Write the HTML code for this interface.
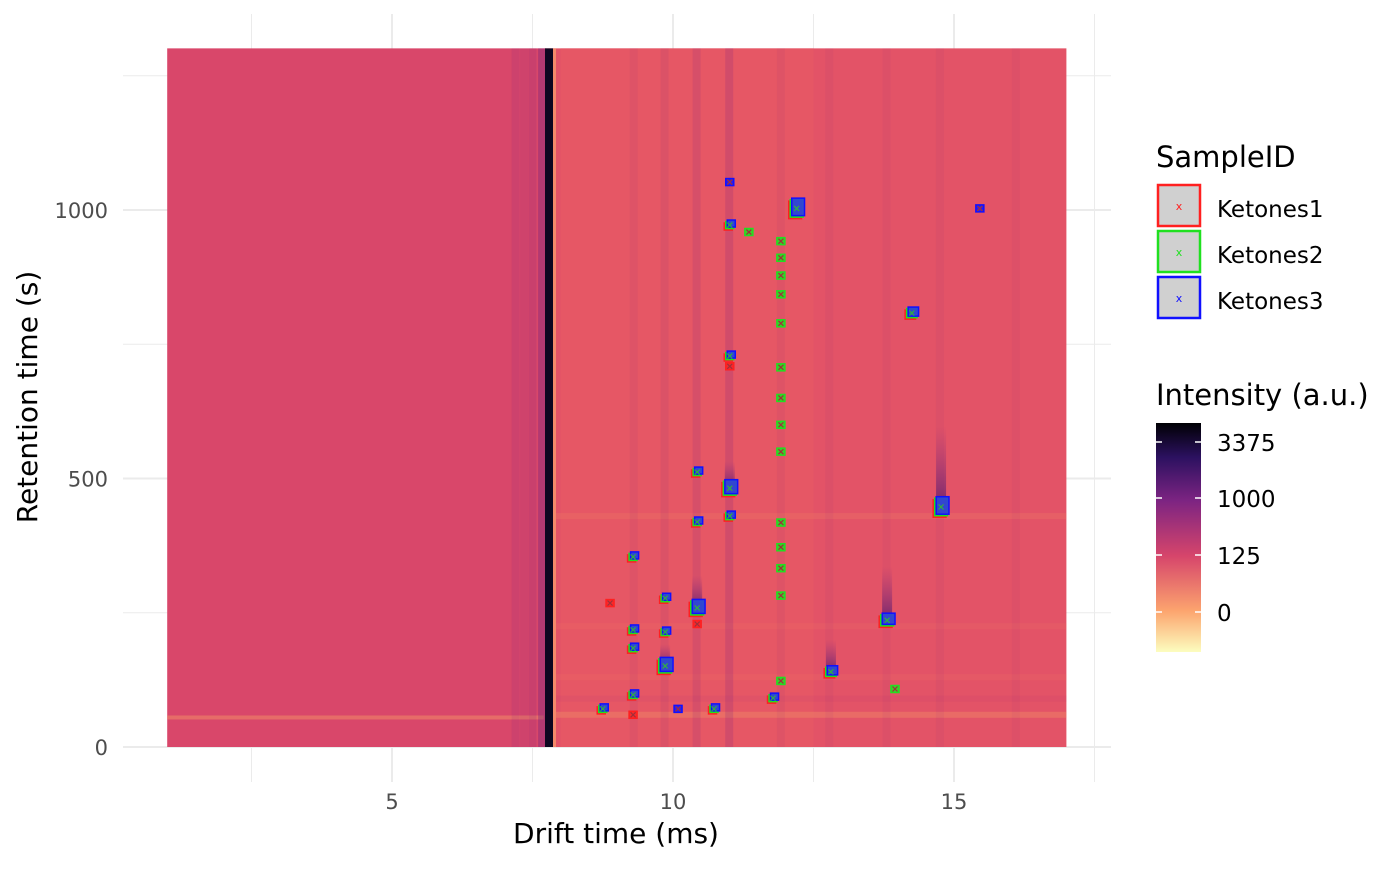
<!DOCTYPE html>
<html><head><meta charset="utf-8"><style>
body{margin:0;background:#fff;font-family:"Liberation Sans","DejaVu Sans",sans-serif}
svg text{font-family:"DejaVu Sans","Liberation Sans",sans-serif}
</style></head><body>
<svg id="chart" width="1400" height="865" viewBox="0 0 1400 865">
<defs>
<linearGradient id="magma" x1="0" y1="1" x2="0" y2="0">
<stop offset="0" stop-color="#fcfdbf"/><stop offset="0.18" stop-color="#fca46e"/><stop offset="0.42" stop-color="#d6456b"/><stop offset="0.66" stop-color="#7d2482"/><stop offset="0.85" stop-color="#2c1160"/><stop offset="1" stop-color="#000004"/>
</linearGradient>
<linearGradient id="tail" x1="0" y1="1" x2="0" y2="0">
<stop offset="0" stop-color="#3b1070" stop-opacity="0.8"/><stop offset="1" stop-color="#7d2482" stop-opacity="0"/>
</linearGradient>
</defs>
<g id="grid"></g>
<g id="heat"></g>
<g id="peaks"></g>
<g id="axes"></g>
<text x="616" y="843" font-size="28" text-anchor="middle" fill="#000">Drift time (ms)</text>
<text transform="translate(37,397) rotate(-90)" font-size="28" text-anchor="middle" fill="#000">Retention time (s)</text>
<g>
<text x="1156" y="167" font-size="29">SampleID</text>
<g><rect x="1158" y="185" width="42" height="41" fill="#d0d0d0" stroke="#ff2020" stroke-width="2.5"/><text x="1179" y="210" font-size="11" fill="#ff2020" text-anchor="middle">x</text><text x="1217" y="217" font-size="23">Ketones1</text></g>
<g><rect x="1158" y="231" width="42" height="41" fill="#d0d0d0" stroke="#20e020" stroke-width="2.5"/><text x="1179" y="256" font-size="11" fill="#20e020" text-anchor="middle">x</text><text x="1217" y="263" font-size="23">Ketones2</text></g>
<g><rect x="1158" y="277" width="42" height="41" fill="#d0d0d0" stroke="#1010ff" stroke-width="2.5"/><text x="1179" y="302" font-size="11" fill="#1010ff" text-anchor="middle">x</text><text x="1217" y="309" font-size="23">Ketones3</text></g>
</g>
<g>
<text x="1156" y="405" font-size="29">Intensity (a.u.)</text>
<rect x="1156" y="423" width="45" height="229" fill="url(#magma)"/>
<g stroke="#fff" stroke-width="1.5">
<line x1="1156" y1="442" x2="1162" y2="442"/><line x1="1195" y1="442" x2="1201" y2="442"/>
<line x1="1156" y1="498" x2="1162" y2="498"/><line x1="1195" y1="498" x2="1201" y2="498"/>
<line x1="1156" y1="555" x2="1162" y2="555"/><line x1="1195" y1="555" x2="1201" y2="555"/>
<line x1="1156" y1="612" x2="1162" y2="612"/><line x1="1195" y1="612" x2="1201" y2="612"/>
</g>
<g font-size="23" fill="#000">
<text x="1217" y="451">3375</text><text x="1217" y="507">1000</text><text x="1217" y="564">125</text><text x="1217" y="621">0</text>
</g>
</g>
</svg>
<script>
const xTicks=[5,10,15];
const xMinor=[2.5,7.5,12.5,17.5];
const yTicks=[0,500,1000];
const yMinor=[250,750,1250];
// streaks: drift time, opacity
const streakDt=[7.2,7.35,7.5,9.3,9.85,10.42,11.0,11.92,12.78,13.8,14.75,16.1];
const streakOp=[0.12,0.1,0.18,0.08,0.1,0.15,0.2,0.07,0.06,0.06,0.06,0.05];
// peaks
const peakDt=[8.75,9.29,9.29,9.29,9.29,9.29,8.88,9.86,9.86,9.86,10.09,10.73,10.43,10.43,10.43,10.43,11.01,11.01,11.01,11.01,11.01,11.01,11.35,11.92,11.92,11.92,11.92,11.92,11.92,11.92,11.92,11.92,11.92,11.92,11.92,11.92,11.92,11.78,12.2,12.81,13.81,13.95,14.25,14.77,15.46];
const peakRt=[71,60,97,184,218,354,268,277,214,151,71,71,259,229,419,512,482,430,728,709,972,1052,959,942,911,878,843,789,707,650,600,550,418,372,333,282,123,91,1003,140,236,108,808,447,1003];
const peakSample=["all","1","all","all","all","all","1","all","all","all","3","all","all","1","all","all","all","all","all","1","all","3","2","2","2","2","2","2","2","2","2","2","2","2","2","2","2","all","all","all","all","2","all","all","3"];
const peakSize=[1,1,1,1,1,1,1,1,1,2,1,1,2,1,1,1,2,1,1,1,1,1,1,1,1,1,1,1,1,1,1,1,1,1,1,1,1,1,2.5,1.3,1.6,1,1.3,2.5,1];
const NS="http://www.w3.org/2000/svg";
const X=d=>111+56.2*d, Y=r=>747-0.537*r;
function el(t,a,p){const e=document.createElementNS(NS,t);for(const k in a)e.setAttribute(k,a[k]);p.appendChild(e);return e;}
const grid=document.getElementById('grid'),heat=document.getElementById('heat'),pk=document.getElementById('peaks'),ax=document.getElementById('axes');
xMinor.forEach(v=>{const l=el('line',{x1:X(v),x2:X(v),y1:14,y2:782,stroke:'#ebebeb','stroke-width':1},grid);});
xTicks.forEach(v=>{const l=el('line',{x1:X(v),x2:X(v),y1:14,y2:782,stroke:'#ebebeb','stroke-width':2},grid);
const t=el('text',{x:X(v),y:809,'font-size':21,fill:'#4d4d4d','text-anchor':'middle'},ax);t.textContent=v;});
yMinor.forEach(v=>{const l=el('line',{x1:123,x2:1111,y1:Y(v),y2:Y(v),stroke:'#ebebeb','stroke-width':1},grid);});
yTicks.forEach(v=>{const l=el('line',{x1:123,x2:1111,y1:Y(v),y2:Y(v),stroke:'#ebebeb','stroke-width':2},grid);
const t=el('text',{x:108,y:Y(v)+8,'font-size':21,fill:'#4d4d4d','text-anchor':'end'},ax);t.textContent=v;});
// base
const x0=X(1),x1=X(17),yT=Y(1301),yB=Y(0);
el('rect',{x:x0,y:yT,width:X(7.75)-x0,height:yB-yT,fill:'#d9476a'},heat);
el('rect',{x:X(7.75),y:yT,width:x1-X(7.75),height:yB-yT,fill:'#e35367'},heat);
el('rect',{x:X(8.0),y:yT,width:X(12.5)-X(8.0),height:yB-yT,fill:'#e85a64',opacity:0.6},heat);
// horizontal bands
[[430,0.3,'#f07a62'],[225,0.2,'#ee7262'],[60,0.45,'#f08a66'],[90,0.15,'#c23f70'],[130,0.2,'#ee7262']].forEach(b=>{el('rect',{x:X(7.9),y:Y(b[0])-3,width:x1-X(7.9),height:6,fill:b[2],opacity:b[1]},heat);});
el('rect',{x:x0,y:Y(55)-2,width:X(7.7)-x0,height:4,fill:'#f08a66',opacity:0.55},heat);
streakDt.forEach((d,i)=>{const r=el('rect',{x:X(d)-4,y:yT,width:8,height:yB-yT,fill:'#7d2482',opacity:streakOp[i]},heat);});
// main dark line
el('rect',{x:X(7.6),y:yT,width:X(7.75)-X(7.6),height:yB-yT,fill:'#6a1f80',opacity:0.35},heat);
el('rect',{x:545,y:yT,width:8,height:yB-yT,fill:'#0d0620'},heat);
el('rect',{x:553,y:yT,width:3,height:yB-yT,fill:'#f4896a'},heat);
// tails above big peaks
[[14.77,447,150],[13.81,236,100],[12.81,140,60],[10.43,259,60],[11.01,482,50],[9.86,151,40]].forEach(t=>{el('rect',{x:X(t[0])-5,y:Y(t[1]+t[2]),width:10,height:0.537*t[2],fill:'url(#tail)',opacity:0.8},heat);});
const col={"1":"#ff2020","2":"#20e020","3":"#1010ff"};
peakDt.forEach((d,i)=>{const cx=X(d),cy=Y(peakRt[i]),s=peakSize[i];const w=8*Math.min(s,1.6),h=7*s;
const g=el('g',{},pk);
const list=peakSample[i]==='all'?['1','2','3']:[peakSample[i]];
list.forEach((k,j)=>{const off=(list.length>1)?(j-1)*1.5:0;
el('rect',{x:cx-w/2+off,y:cy-h/2-off,width:w,height:h,fill:peakSample[i]==='all'&&k==='3'?'#3030ee':col[k],stroke:col[k],'stroke-width':1.5,'fill-opacity':0.85},g);});
const c=list.length>1?'#30b040':'#a0303a';
el('path',{d:`M${cx-2.5},${cy-2.5}L${cx+2.5},${cy+2.5}M${cx+2.5},${cy-2.5}L${cx-2.5},${cy+2.5}`,stroke:c,'stroke-width':1.2},g);});
</script>
</body></html>
